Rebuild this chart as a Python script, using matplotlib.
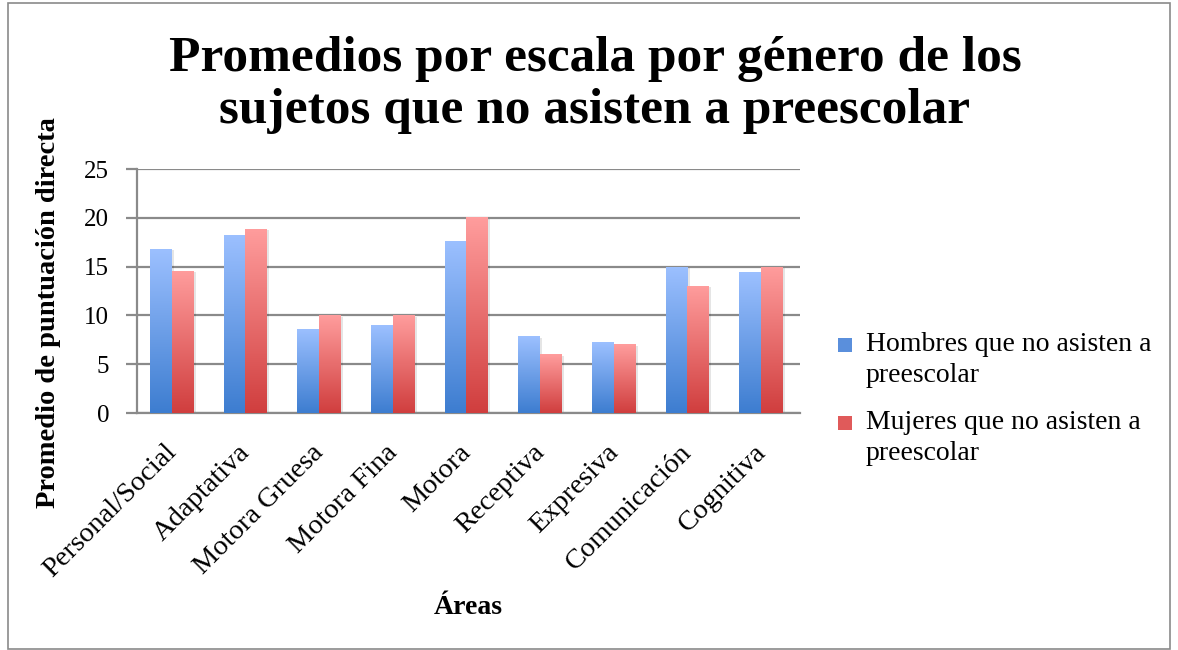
import numpy as np
import matplotlib
matplotlib.use("Agg")
import matplotlib.pyplot as plt
from matplotlib.colors import LinearSegmentedColormap
from matplotlib.patches import Rectangle
from matplotlib.transforms import ScaledTranslation

areas = ["Personal/Social", "Adaptativa", "Motora Gruesa", "Motora Fina", "Motora",
         "Receptiva", "Expresiva", "Comunicación", "Cognitiva"]
hombres = [16.8, 18.25, 8.65, 9.0, 17.65, 7.85, 7.25, 15.0, 14.4]
mujeres = [14.6, 18.9, 10.0, 10.0, 20.05, 6.0, 7.05, 13.05, 15.0]
series_names = ["Hombres que no asisten a\npreescolar", "Mujeres que no asisten a\npreescolar"]
yticks = [0, 5, 10, 15, 20, 25]

serif = ["Liberation Serif", "DejaVu Serif"]
plt.rcParams['font.family'] = serif

fig = plt.figure(figsize=(11.78, 6.5), dpi=100)
ax = fig.add_axes([137 / 1178, 1 - 413 / 650, 663 / 1178, 244 / 650])

blue_cm = LinearSegmentedColormap.from_list("b", ["#3d7dd0", "#9cc0ff"])
red_cm = LinearSegmentedColormap.from_list("r", ["#d03e3e", "#ff9d9d"])
grad = np.linspace(0, 1, 256).reshape(-1, 1)

x = np.arange(len(areas))
w = 0.295
for vals, off, cm in [(hombres, -w / 2, blue_cm), (mujeres, w / 2, red_cm)]:
    bars = ax.bar(x + off - 0.03, vals, w, color="none", zorder=3)
    for b in bars:
        # soft shadow
        sh = Rectangle((b.get_x() + 0.03, 0), b.get_width(), b.get_height() - 0.15,
                       facecolor="#000000", alpha=0.10, zorder=2, linewidth=0)
        ax.add_patch(sh)
        im = ax.imshow(grad, cmap=cm, aspect="auto", origin="lower",
                       extent=[b.get_x(), b.get_x() + b.get_width(), 0, b.get_height()],
                       zorder=3)
        im.set_clip_path(b)

ax.set_xlim(-0.5, len(areas) - 0.5)
ax.set_ylim(0, 25)
ax.set_yticks(yticks)
ax.yaxis.grid(True, color="#8a8a8a", linewidth=1.6, zorder=1)
ax.set_axisbelow(True)
for s in ["top", "right"]:
    ax.spines[s].set_visible(False)
for s in ["left", "bottom"]:
    ax.spines[s].set_color("#8a8a8a")
    ax.spines[s].set_linewidth(1.6)
ax.tick_params(axis="y", length=8, width=1.6, color="#8a8a8a", labelsize=18, pad=12)
ax.tick_params(axis="x", length=0, labelsize=20.5, pad=2)
ax.set_xticks(x)
ax.set_xticklabels(areas, rotation=45, ha="right", rotation_mode="anchor")
for t in ax.get_xticklabels():
    t.set_transform(t.get_transform() + ScaledTranslation(-0.10, -0.24, fig.dpi_scale_trans))

ax.set_ylabel("Promedio de puntuación directa", fontsize=20.5, fontweight="bold")
ax.yaxis.set_label_coords(-0.114, 0.41)
ax.set_xlabel("Áreas", fontsize=20, fontweight="bold")
ax.xaxis.set_label_coords(0.5, -0.745)

fig.text(0.505, 0.869, "Promedios por escala por género de los\nsujetos que no asisten a preescolar",
         ha="center", va="center", fontsize=37, fontweight="bold", linespacing=1.17)

# legend, handle aligned to first text line
leg_colors = ["#5a8fdc", "#e05a5a"]
leg_y = [345, 423]
for name, col, yy in zip(series_names, leg_colors, leg_y):
    fig.patches.append(Rectangle((838 / 1178, 1 - (yy + 7) / 650), 14 / 1178, 14 / 650,
                                 transform=fig.transFigure, facecolor=col, edgecolor="none"))
    fig.text(866 / 1178, 1 - (yy - 13) / 650, name, ha="left", va="top", fontsize=20,
             linespacing=1.3)

fig.patches.append(Rectangle((8 / 1178, 0.002), 1162 / 1178, 0.994, transform=fig.transFigure,
                             fill=False, edgecolor="#8a8a8a", linewidth=1.2))

fig.savefig("out.png", dpi=100)
